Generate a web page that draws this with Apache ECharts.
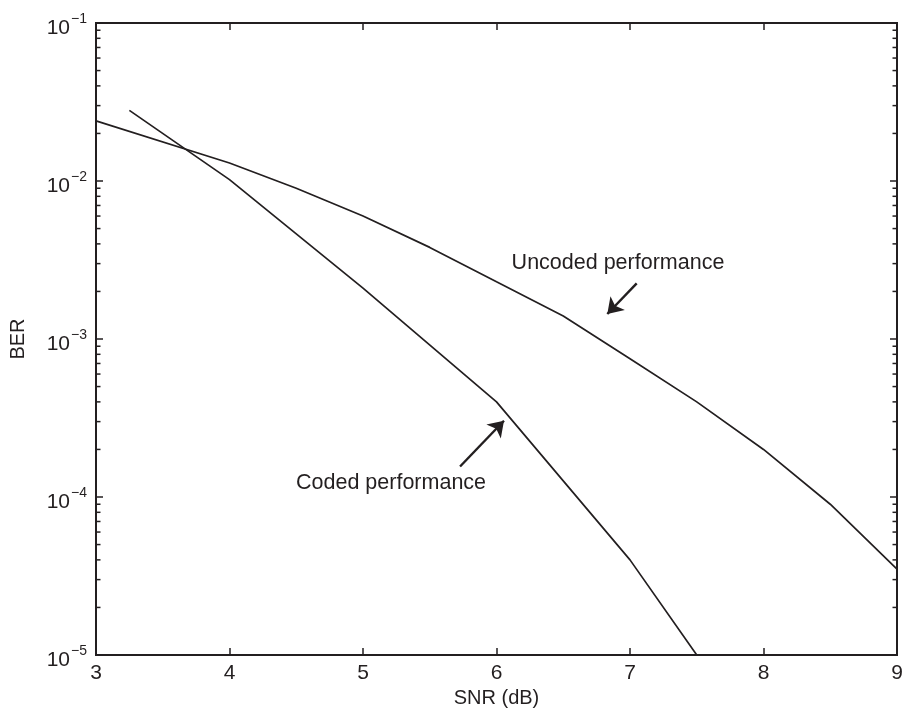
<!DOCTYPE html>
<html><head><meta charset="utf-8">
<script src="https://cdn.jsdelivr.net/npm/echarts@6/dist/echarts.min.js"></script>
<style>html,body{margin:0;padding:0;background:#fff}#c{width:904px;height:719px}</style>
</head><body><div id="c"></div>
<script>
// ---- data ----
const snrUncoded = [3, 4, 4.5, 5, 5.5, 6, 6.5, 7, 7.5, 8, 8.5, 9];
const berUncoded = [0.024, 0.013, 0.009, 0.006, 0.0038, 0.0023, 0.0014, 0.00075, 0.0004, 0.0002, 0.00009, 0.000035];
const snrCoded = [3.25, 4, 5, 6, 7, 7.5];
const berCoded = [0.028, 0.0102, 0.0021, 0.0004, 0.00004, 0.00001];
const xTicks = [3, 4, 5, 6, 7, 8, 9];
const yDecades = [-5, -4, -3, -2, -1];
const labelTexts = ['Uncoded performance', 'Coded performance'];
const labelAnchors = [[6.91, 0.00303], [5.21, 0.000123]];
const arrowStarts = [[7.05, 0.00225], [5.727, 0.000156]];
const arrowEnds = [[6.83, 0.00144], [6.056, 0.000304]];

const INK = '#231f20';
const FONT = "'Liberation Sans', Arial, sans-serif";
function decadeLabel(v) {
  const e = Math.round(Math.log10(v));
  const s = String(e).replace('-', '\u2212');
  return '{b|10}{s|' + s + '}';
}
const minorTicks = [];
for (let k = 0; k < yDecades.length - 1; k++) {
  for (let m = 2; m <= 9; m++) minorTicks.push([3, m * Math.pow(10, yDecades[k])]);
}

const chart = echarts.init(document.getElementById('c'), null, {renderer: 'canvas'});
const axisLine = {show: true, lineStyle: {color: INK, width: 2}};
const option = {
  backgroundColor: '#fff',
  animation: false,
  grid: {left: 96, right: 7, top: 23, bottom: 64, show: true, borderColor: INK, borderWidth: 2, containLabel: false, outerBoundsMode: 'none'},
  xAxis: [{
    type: 'value', min: xTicks[0], max: xTicks[xTicks.length - 1], interval: 1,
    axisLine, splitLine: {show: false},
    axisTick: {show: true, inside: true, length: 7, lineStyle: {color: INK, width: 1.5}},
    axisLabel: {fontFamily: FONT, fontSize: 21, color: INK, margin: 8},
    name: 'SNR (dB)', nameLocation: 'middle', nameGap: 28,
    nameTextStyle: {fontFamily: FONT, fontSize: 20, color: INK}
  }, {
    type: 'value', position: 'top', min: xTicks[0], max: xTicks[xTicks.length - 1], interval: 1,
    axisLine, splitLine: {show: false},
    axisTick: {show: true, inside: true, length: 7, lineStyle: {color: INK, width: 1.5}},
    axisLabel: {show: false}
  }],
  yAxis: [{
    type: 'log', logBase: 10, min: Math.pow(10, yDecades[0]), max: Math.pow(10, yDecades[yDecades.length - 1]),
    axisLine, splitLine: {show: false},
    axisTick: {show: true, inside: true, length: 7, lineStyle: {color: INK, width: 1.5}},
    axisLabel: {
      margin: 9, formatter: decadeLabel,
      rich: {
        b: {fontFamily: FONT, fontSize: 21, color: INK, padding: [10, 0, 0, 0]},
        s: {fontFamily: FONT, fontSize: 14, color: INK, padding: [0, 0, 8, 1]}
      }
    },
    name: 'BER', nameLocation: 'middle', nameGap: 68, nameRotate: 90,
    nameTextStyle: {fontFamily: FONT, fontSize: 20, color: INK}
  }, {
    type: 'log', logBase: 10, position: 'right', min: Math.pow(10, yDecades[0]), max: Math.pow(10, yDecades[yDecades.length - 1]),
    axisLine, splitLine: {show: false},
    axisTick: {show: true, inside: true, length: 7, lineStyle: {color: INK, width: 1.5}},
    axisLabel: {show: false}
  }],
  series: [
    {
      type: 'line', name: 'Uncoded', symbol: 'none', silent: true,
      data: snrUncoded.map((x, i) => [x, berUncoded[i]]),
      lineStyle: {color: INK, width: 1.7},
      markLine: {
        silent: true, symbol: ['none', 'arrow'], symbolSize: 15,
        lineStyle: {color: INK, width: 2.4, type: 'solid'},
        label: {show: false},
        data: arrowStarts.map((s, i) => [{coord: s}, {coord: arrowEnds[i]}])
      }
    },
    {
      type: 'line', name: 'Coded', symbol: 'none', silent: true, clip: true,
      data: snrCoded.map((x, i) => [x, berCoded[i]]),
      lineStyle: {color: INK, width: 1.7}
    },
    {
      type: 'scatter', symbolSize: 0, silent: true,
      itemStyle: {opacity: 1, color: INK},
      data: labelAnchors.map((a, i) => ({value: a, name: labelTexts[i]})),
      label: {show: true, position: 'inside', formatter: p => p.name, fontFamily: FONT, fontSize: 21.5, color: INK, opacity: 1}
    },
    {
      type: 'custom', silent: true, clip: false,
      data: minorTicks,
      encode: {x: 0, y: 1},
      renderItem: function (params, api) {
        const pl = api.coord([xTicks[0], api.value(1)]);
        const pr = api.coord([xTicks[xTicks.length - 1], api.value(1)]);
        const st = {stroke: INK, lineWidth: 1.5};
        return {type: 'group', children: [
          {type: 'line', shape: {x1: pl[0], y1: pl[1], x2: pl[0] + 4.5, y2: pl[1]}, style: st},
          {type: 'line', shape: {x1: pr[0], y1: pr[1], x2: pr[0] - 4.5, y2: pr[1]}, style: st}
        ]};
      }
    }
  ]
};
chart.setOption(option);
</script>
</body></html>
